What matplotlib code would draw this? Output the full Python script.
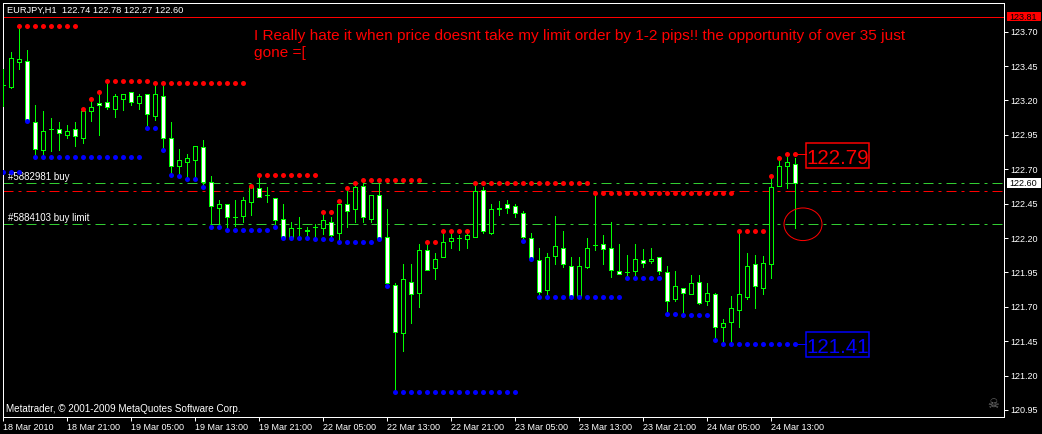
import matplotlib
matplotlib.use('Agg')
import matplotlib.pyplot as plt
from matplotlib.patches import Ellipse, Rectangle
from matplotlib.transforms import IdentityTransform
import numpy as np

plt.rcParams['font.family'] = ['Liberation Sans', 'DejaVu Sans']

W, H = 1042, 434
DPI = 72

symbol_info = 'EURJPY,H1  122.74 122.78 122.27 122.60'
comment_1 = 'I Really hate it when price doesnt take my limit order by 1-2 pips!! the opportunity of over 35 just'
comment_2 = 'gone =['
copyright_txt = 'Metatrader, \u00a9 2001-2009 MetaQuotes Software Corp.'

# H1 bars, oldest first
opens = [123.31, 123.30, 123.48, 123.49, 123.04, 122.84, 122.99, 122.99, 122.95, 122.99,
         122.93, 123.12, 123.18, 123.19, 123.14, 123.21, 123.26, 123.18, 123.25, 123.09,
         123.23, 122.93, 122.72, 122.75, 122.77, 122.86, 122.61, 122.42, 122.45, 122.35,
         122.36, 122.46, 122.56, 122.51, 122.49, 122.34, 122.21, 122.27, 122.25, 122.28,
         122.27, 122.32, 122.24, 122.45, 122.41, 122.58, 122.34, 122.51, 122.21, 121.86,
         121.51, 121.88, 121.80, 122.11, 121.98, 122.06, 122.18, 122.20, 122.19, 122.21,
         122.55, 122.24, 122.42, 122.45, 122.43, 122.38, 122.20, 122.04, 121.82, 122.07,
         122.13, 122.00, 121.78, 121.99, 122.15, 122.16, 122.13, 121.96, 121.95, 121.96,
         122.04, 122.03, 122.06, 121.95, 121.76, 121.84, 121.79, 121.88, 121.74, 121.79,
         121.55, 121.59, 121.68, 121.77, 122.01, 121.84, 122.01, 122.58, 122.72, 122.74]
highs = [123.43, 123.55, 123.73, 123.57, 123.17, 123.12, 123.07, 123.04, 123.02, 123.04,
         123.12, 123.20, 123.24, 123.33, 123.25, 123.25, 123.26, 123.25, 123.25, 123.32,
         123.31, 123.04, 122.85, 122.81, 122.87, 122.91, 122.65, 122.48, 122.45, 122.48,
         122.50, 122.58, 122.65, 122.57, 122.49, 122.45, 122.32, 122.35, 122.28, 122.30,
         122.37, 122.35, 122.45, 122.55, 122.59, 122.61, 122.51, 122.59, 122.41, 121.87,
         122.01, 122.01, 122.16, 122.15, 122.09, 122.24, 122.25, 122.22, 122.24, 122.60,
         122.57, 122.45, 122.47, 122.48, 122.45, 122.40, 122.24, 122.13, 122.09, 122.36,
         122.25, 122.06, 122.06, 122.20, 122.53, 122.22, 122.32, 122.16, 122.08, 122.16,
         122.12, 122.13, 122.06, 122.00, 121.96, 121.84, 121.93, 121.93, 121.87, 121.80,
         121.61, 121.78, 122.24, 122.09, 122.08, 122.07, 122.64, 122.76, 122.79, 122.78]
lows = [123.16, 123.29, 123.43, 123.04, 122.80, 122.80, 122.83, 122.84, 122.93, 122.87,
        122.89, 123.05, 122.95, 123.14, 123.08, 123.13, 123.17, 123.14, 123.00, 123.06,
        122.84, 122.67, 122.66, 122.65, 122.65, 122.58, 122.28, 122.28, 122.27, 122.29,
        122.32, 122.37, 122.50, 122.46, 122.28, 122.20, 122.20, 122.21, 122.21, 122.21,
        122.23, 122.21, 122.19, 122.28, 122.32, 122.32, 122.32, 122.19, 121.85, 121.08,
        121.38, 121.58, 121.70, 121.97, 121.90, 122.06, 122.13, 122.11, 122.13, 122.21,
        122.24, 122.23, 122.37, 122.38, 122.35, 122.19, 122.04, 121.77, 121.77, 122.01,
        121.99, 121.76, 121.77, 121.98, 122.11, 122.01, 121.92, 121.94, 121.92, 121.93,
        121.99, 122.02, 121.94, 121.67, 121.74, 121.65, 121.79, 121.72, 121.71, 121.48,
        121.44, 121.44, 121.55, 121.76, 121.69, 121.79, 121.91, 122.58, 122.56, 122.27]
closes = [123.31, 123.51, 123.50, 123.05, 122.85, 122.98, 122.99, 122.96, 122.98, 122.94,
          123.12, 123.15, 123.17, 123.15, 123.23, 123.25, 123.19, 123.23, 123.10, 123.25,
          122.93, 122.72, 122.77, 122.78, 122.87, 122.61, 122.43, 122.45, 122.35, 122.35,
          122.48, 122.57, 122.50, 122.51, 122.33, 122.21, 122.27, 122.27, 122.26, 122.28,
          122.33, 122.22, 122.45, 122.40, 122.57, 122.35, 122.51, 122.20, 121.87, 121.52,
          121.90, 121.79, 122.11, 121.97, 122.05, 122.17, 122.20, 122.20, 122.22, 122.54,
          122.25, 122.41, 122.41, 122.42, 122.38, 122.21, 122.05, 121.81, 122.06, 122.14,
          122.01, 121.77, 122.00, 122.13, 122.15, 122.12, 121.97, 121.94, 121.95, 122.05,
          122.02, 122.05, 121.96, 121.74, 121.85, 121.80, 121.87, 121.73, 121.80, 121.55,
          121.58, 121.69, 121.79, 122.00, 121.85, 122.02, 122.57, 122.72, 122.75, 122.60]

nan = np.nan
# resistance dots (red) and support dots (blue)
red_dots = [nan, nan, 123.74, 123.74, 123.74, 123.74, 123.74, 123.74, 123.74, 123.74,
            123.14, 123.21, 123.26, 123.34, 123.34, 123.34, 123.34, 123.34, 123.34, 123.33,
            123.33, 123.33, 123.33, 123.33, 123.33, 123.33, 123.33, 123.33, 123.33, 123.33,
            123.33, 122.58, 122.66, 122.66, 122.66, 122.66, 122.66, 122.66, 122.66, 122.66,
            122.39, 122.39, 122.47, 122.56, 122.60, 122.62, 122.62, 122.62, 122.62, 122.62,
            122.62, 122.62, 122.62, 122.17, 122.17, 122.25, 122.25, 122.25, 122.25, 122.60,
            122.60, 122.60, 122.60, 122.60, 122.60, 122.60, 122.60, 122.60, 122.60, 122.60,
            122.60, 122.60, 122.60, 122.60, 122.53, 122.53, 122.53, 122.53, 122.53, 122.53,
            122.53, 122.53, 122.53, 122.53, 122.53, 122.53, 122.53, 122.53, 122.53, 122.53,
            122.53, 122.53, 122.25, 122.25, 122.25, 122.25, 122.65, 122.78, 122.81, 122.81]
blue_dots = [122.68, 122.68, 122.68, 123.05, 122.79, 122.79, 122.79, 122.79, 122.79, 122.79,
             122.79, 122.79, 122.79, 122.79, 122.79, 122.79, 122.79, 122.79, 123.00, 123.00,
             122.84, 122.66, 122.65, 122.63, 122.63, 122.57, 122.28, 122.28, 122.26, 122.26,
             122.26, 122.26, 122.26, 122.26, 122.28, 122.20, 122.20, 122.20, 122.20, 122.19,
             122.19, 122.19, 122.17, 122.17, 122.17, 122.17, 122.17, 122.19, 121.85, 121.08,
             121.08, 121.08, 121.08, 121.08, 121.08, 121.08, 121.08, 121.08, 121.08, 121.08,
             121.08, 121.08, 121.08, 121.08, 121.08, 122.18, 122.05, 121.77, 121.77, 121.77,
             121.77, 121.77, 121.77, 121.77, 121.77, 121.77, 121.77, 121.77, 121.91, 121.91,
             121.91, 121.91, 121.91, 121.65, 121.65, 121.64, 121.64, 121.64, 121.64, 121.46,
             121.43, 121.43, 121.43, 121.43, 121.43, 121.43, 121.43, 121.43, 121.43, 121.43]

time_bars = [0, 8, 16, 24, 32, 40, 48, 56, 64, 72, 80, 88, 96]
time_labels = ['18 Mar 2010', '18 Mar 21:00', '19 Mar 05:00', '19 Mar 13:00', '19 Mar 21:00',
               '22 Mar 05:00', '22 Mar 13:00', '22 Mar 21:00', '23 Mar 05:00', '23 Mar 13:00',
               '23 Mar 21:00', '24 Mar 05:00', '24 Mar 13:00']
price_ticks = [123.70, 123.45, 123.20, 122.95, 122.70, 122.45, 122.20, 121.95, 121.70,
               121.45, 121.20, 120.95]

top_line = 123.81
bid = 122.60
stop_line = 122.54
buy_order = 122.60
limit_order = 122.30
buy_text = '#5882981 buy'
limit_text = '#5884103 buy limit'
hi_label = 122.79
lo_label = 121.41

green = '#00ff00'
order_green = '#32cd32'

fig = plt.figure(figsize=(W / DPI, H / DPI), dpi=DPI, facecolor='black')
ax = fig.add_axes([3 / W, 17 / H, 1001 / W, 414.5 / H], facecolor='black')
ax.set_xlim(0, 125.125)
ax.set_ylim(120.899, 123.912)
for s in ax.spines.values():
    s.set_color('white')
    s.set_linewidth(1)

x = np.arange(len(opens))
o = np.array(opens)
c = np.array(closes)

# horizontal objects
ax.axhline(top_line, color='red', lw=1, zorder=1)
ax.axhline(buy_order, color=order_green, lw=1, dashes=(10, 5, 3, 5), zorder=1)
ax.axhline(stop_line, color='red', lw=1, dashes=(10, 5, 3, 5), zorder=1)
ax.axhline(limit_order, color=order_green, lw=1, dashes=(10, 5, 3, 5), zorder=1)

# candles
ax.vlines(x, lows, highs, color=green, lw=1, antialiased=False, zorder=3)
fills = ['white' if cc < oo else 'black' for oo, cc in zip(o, c)]
ax.bar(x, np.abs(c - o), bottom=np.minimum(o, c), width=0.5, color=fills,
       edgecolor=green, linewidth=1, antialiased=False, zorder=4)

ax.plot(x, red_dots, 'o', color='red', ms=5, mew=0, zorder=5)
ax.plot(x, blue_dots, 'o', color='blue', ms=5, mew=0, zorder=5)

ax.add_patch(Ellipse((100, limit_order), 4.75, 0.237, fill=False, ec='red', lw=1, zorder=6))

# axes ticks
ax.yaxis.tick_right()
ax.set_yticks(price_ticks)
ax.set_yticklabels(['%.2f' % p for p in price_ticks])
ax.tick_params(axis='y', colors='white', length=4, width=1, pad=2, labelsize=9, direction='out')
ax.set_xticks(time_bars)
ax.set_xticklabels(time_labels, ha='left')
ax.tick_params(axis='x', colors='white', length=4, width=1, pad=1.5, labelsize=9, direction='out')

# order labels
ax.annotate(buy_text, xy=(0, buy_order), xycoords=('axes fraction', 'data'),
            xytext=(5, 6), textcoords='offset points', color='white', fontsize=9.8, va='center')
ax.annotate(limit_text, xy=(0, limit_order), xycoords=('axes fraction', 'data'),
            xytext=(5, 6), textcoords='offset points', color='white', fontsize=9.8, va='center')


def px(xp, yp):
    return xp / W, 1 - yp / H


def price_tag(level, fc, tc):
    yd = ax.transData.transform((0, level))[1]
    fig.patches.append(Rectangle((1006.5, yd - 4.8), 34, 9.6, transform=IdentityTransform(),
                                 fc=fc, ec='none'))
    fig.text(1023.5 / W, yd / H, '%.2f' % level, color=tc, fontsize=9, ha='center',
             va='center_baseline')


price_tag(top_line, 'red', 'black')
price_tag(bid, 'white', 'black')


def level_box(k, level, value, col):
    xd, yd = ax.transData.transform((k, level))
    left = xd + 11
    fig.add_artist(plt.Line2D([xd, left], [yd, yd], transform=IdentityTransform(), color=col, lw=1))
    fig.patches.append(Rectangle((left, yd - 13.5), 63, 25, transform=IdentityTransform(),
                                 fc='black', ec=col, lw=1.5))
    fig.text((left + 31.5) / W, (yd - 9.5) / H, '%.2f' % value, color=col, fontsize=20.5,
             ha='center', va='baseline')


level_box(99, red_dots[-1], hi_label, 'red')
level_box(99, blue_dots[-1], lo_label, 'blue')

# texts
fig.text(*px(7, 10.5), symbol_info, color='white', fontsize=9.2, va='center')
fig.text(*px(254, 40), comment_1, color='red', fontsize=15.4, va='baseline')
fig.text(*px(254, 57.5), comment_2, color='red', fontsize=15.4, va='baseline')
fig.text(*px(6, 408.5), copyright_txt, color='white', fontsize=9.9, va='center')
fig.text(*px(993, 404), '\u2620', color='#777777', fontsize=13, ha='center', va='center',
         family='DejaVu Sans')

fig.savefig('out.png', dpi=DPI, facecolor='black')
